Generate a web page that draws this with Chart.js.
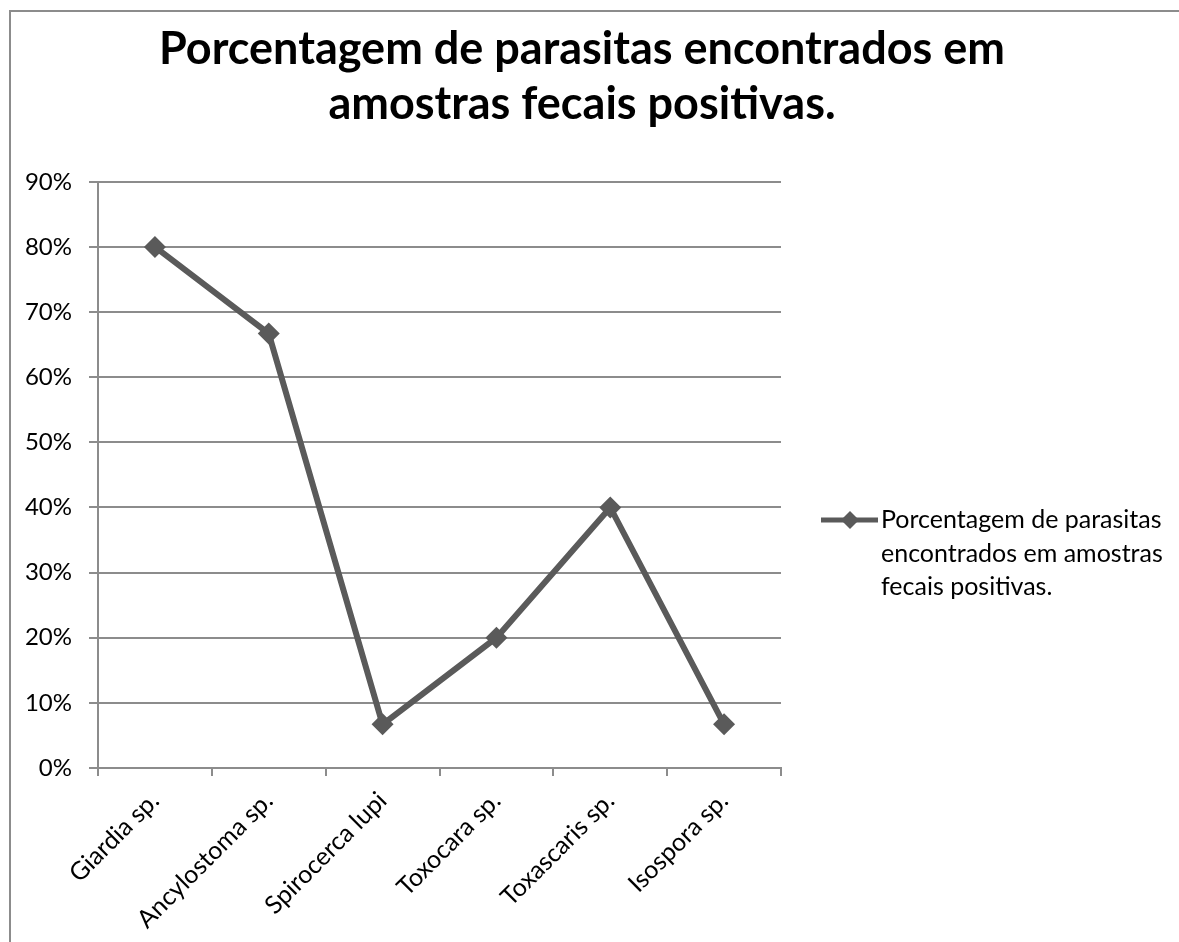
<!DOCTYPE html>
<html>
<head>
<meta charset="utf-8">
<script src="https://cdn.jsdelivr.net/npm/chart.js@4/dist/chart.umd.min.js"></script>
<style>
  html, body { margin: 0; padding: 0; background: #fff; overflow: hidden; }
  #wrap { position: absolute; left: 0; top: 0; width: 1179px; height: 942px; }
  #frame { position: absolute; left: 9px; top: 10px; width: 1300px; height: 1100px;
           border: 2px solid #8c8c8c; pointer-events: none; }
</style>
</head>
<body>
<div id="wrap"><canvas id="parasitasChart"></canvas></div>
<div id="frame"></div>
<script>
// Categories (x axis)
const categories = [
  'Giardia sp.', 'Ancylostoma sp.', 'Spirocerca lupi',
  'Toxocara sp.', 'Toxascaris sp.', 'Isospora sp.'
];

// Share of positive samples
const percentages = [0.80, 0.667, 0.067, 0.20, 0.40, 0.067];

// Y axis ticks
const yTicks = [0, 0.1, 0.2, 0.3, 0.4, 0.5, 0.6, 0.7, 0.8, 0.9];

const titleLines = ['Porcentagem de parasitas encontrados em', 'amostras fecais positivas.'];
const legendLines = ['Porcentagem de parasitas', 'encontrados em amostras', 'fecais positivas.'];

const lineColor = '#5a5a5a';
const gridColor = '#8c8c8c';
const fontFamily = 'Lato, "Liberation Sans", sans-serif';

// Legend drawn by hand so the label can wrap over three lines
const wrappedLegend = {
  id: 'wrappedLegend',
  afterDraw(chart) {
    const c = chart.ctx;
    const x0 = chart.chartArea.right + 40;
    const y0 = 520;
    c.save();
    c.strokeStyle = lineColor;
    c.lineWidth = 5;
    c.beginPath();
    c.moveTo(x0, y0);
    c.lineTo(x0 + 57, y0);
    c.stroke();
    // diamond marker
    const mx = x0 + 29, r = 9;
    c.fillStyle = lineColor;
    c.beginPath();
    c.moveTo(mx, y0 - r);
    c.lineTo(mx + r, y0);
    c.lineTo(mx, y0 + r);
    c.lineTo(mx - r, y0);
    c.closePath();
    c.fill();
    c.fillStyle = '#000';
    c.font = '25px ' + fontFamily;
    c.textBaseline = 'middle';
    c.textAlign = 'left';
    legendLines.forEach(function(t, i) {
      c.fillText(t, x0 + 60, y0 + i * 33.5);
    });
    c.restore();
  }
};

const ctx = document.getElementById('parasitasChart').getContext('2d');
const chart = new Chart(ctx, {
  type: 'line',
  data: {
    labels: categories,
    datasets: [{
      label: legendLines.join(' '),
      data: percentages,
      borderColor: lineColor,
      backgroundColor: lineColor,
      borderWidth: 6,
      pointStyle: 'rectRot',
      pointRadius: 11,
      pointBorderWidth: 0,
      tension: 0
    }]
  },
  options: {
    responsive: true,
    maintainAspectRatio: false,
    animation: false,
    layout: { padding: { left: 0, right: 15, top: 0, bottom: 0 } },
    plugins: {
      legend: { display: false },
      tooltip: { enabled: false },
      title: {
        display: true,
        text: titleLines,
        color: '#000',
        font: { family: fontFamily, size: 45, weight: 'bold', lineHeight: 1.22 },
        padding: { top: 22, bottom: 50 }
      }
    },
    scales: {
      x: {
        offset: true,
        grid: {
          display: true,
          offset: true,
          drawOnChartArea: false,
          drawTicks: true,
          tickLength: 8,
          color: gridColor,
          lineWidth: 2
        },
        border: { color: gridColor, width: 2 },
        ticks: {
          color: '#000',
          font: { family: fontFamily, size: 25 },
          minRotation: 45,
          maxRotation: 45,
          padding: 10
        },
        afterFit: function(scale) { scale.height = 174; }
      },
      y: {
        min: 0,
        max: 0.9,
        afterBuildTicks: function(scale) {
          scale.ticks = yTicks.map(function(v) { return { value: v }; });
        },
        grid: { color: gridColor, lineWidth: 2, tickLength: 9 },
        border: { color: gridColor, width: 2 },
        ticks: {
          color: '#000',
          padding: 17,
          font: { family: fontFamily, size: 24 },
          callback: function(value) { return Math.round(value * 100) + '%'; }
        },
        afterFit: function(scale) { scale.width = 98; }
      },
      // empty axis that reserves room for the hand-drawn legend
      legendSpace: {
        type: 'linear',
        position: 'right',
        display: true,
        grid: { display: false },
        border: { display: false },
        ticks: { display: false },
        afterFit: function(scale) { scale.width = 1179 - 15 - 781; }
      }
    }
  },
  plugins: [wrappedLegend]
});
</script>
</body>
</html>
